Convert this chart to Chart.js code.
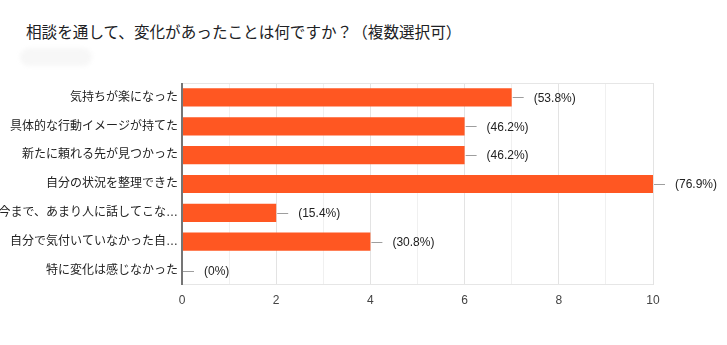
<!DOCTYPE html>
<html>
<head>
<meta charset="utf-8">
<script src="https://cdn.jsdelivr.net/npm/chart.js@4/dist/chart.umd.min.js"></script>
<style>
  html, body { margin: 0; padding: 0; background: #fff; }
  #wrap { position: relative; width: 727px; height: 345px; overflow: hidden; }
  #title { position: absolute; left: 26px; top: 22px; font-size: 15.6px; color: #202124;
           font-family: Arial, "Liberation Sans", "Noto Sans CJK JP", sans-serif; white-space: nowrap; line-height: 22px; }
  #pill { position: absolute; left: 20px; top: 48px; width: 72px; height: 18px; border-radius: 9px;
          background: #f7f7f7; filter: blur(2px); }
  canvas { position: absolute; left: 0; top: 0; }
</style>
</head>
<body>
<div id="wrap">
  <div id="title">相談を通して、変化があったことは何ですか？（複数選択可）</div>
  <div id="pill"></div>
  <canvas id="c" width="727" height="345"></canvas>
</div>
<script>
const categories = [
  "気持ちが楽になった",
  "具体的な行動イメージが持てた",
  "新たに頼れる先が見つかった",
  "自分の状況を整理できた",
  "今まで、あまり人に話してこな…",
  "自分で気付いていなかった自…",
  "特に変化は感じなかった"
];
const counts = [7, 6, 6, 10, 2, 4, 0];
const percentLabels = ["(53.8%)", "(46.2%)", "(46.2%)", "(76.9%)", "(15.4%)", "(30.8%)", "(0%)"];
const xTickValues = [0, 2, 4, 6, 8, 10];

const FONT = 'Arial, "Liberation Sans", "Noto Sans CJK JP", sans-serif';

const framePlugin = {
  id: 'frame',
  beforeDatasetsDraw(chart) {
    const a = chart.chartArea, ctx = chart.ctx;
    ctx.save();
    ctx.strokeStyle = '#e6e6e6';
    ctx.lineWidth = 1;
    ctx.beginPath();
    ctx.moveTo(a.left, a.top + 0.5); ctx.lineTo(a.right, a.top + 0.5);
    ctx.moveTo(a.left, a.bottom - 0.5); ctx.lineTo(a.right, a.bottom - 0.5);
    ctx.stroke();
    ctx.restore();
  },
  afterDatasetsDraw(chart) {
    const ctx = chart.ctx;
    const meta = chart.getDatasetMeta(0);
    ctx.save();
    const a = chart.chartArea;
    ctx.strokeStyle = '#757575';
    ctx.lineWidth = 2;
    ctx.beginPath();
    ctx.moveTo(a.left, a.top); ctx.lineTo(a.left, a.bottom);
    ctx.stroke();
    ctx.font = '12px ' + FONT;
    ctx.textBaseline = 'middle';
    ctx.textAlign = 'left';
    meta.data.forEach((bar, i) => {
      const xe = bar.x, y = bar.y;
      ctx.strokeStyle = '#9e9e9e';
      ctx.lineWidth = 1;
      ctx.beginPath();
      ctx.moveTo(xe + 1, Math.round(y) + 0.5);
      ctx.lineTo(xe + 12, Math.round(y) + 0.5);
      ctx.stroke();
      ctx.fillStyle = '#222';
      ctx.fillText(percentLabels[i], xe + 22, y + 1);
    });
    ctx.restore();
  }
};

new Chart(document.getElementById('c'), {
  type: 'bar',
  data: {
    labels: categories,
    datasets: [{
      data: counts,
      backgroundColor: '#ff5722',
      borderWidth: 0,
      categoryPercentage: 1,
      barPercentage: 0.63
    }]
  },
  options: {
    indexAxis: 'y',
    responsive: false,
    animation: false,
    devicePixelRatio: 1,
    layout: { padding: { left: 0, right: 74, top: 83, bottom: 0 } },
    plugins: { legend: { display: false }, tooltip: { enabled: false } },
    scales: {
      x: {
        min: 0, max: 10,
        afterFit(s) { s.height = 60; },
        afterBuildTicks(s) { s.ticks = Array.from({length: 11}, (_, i) => ({ value: i })); },
        grid: {
          color: (c) => (c.tick && c.tick.value % 2 === 0) ? '#e3e3e3' : '#f0f0f0',
          drawTicks: false
        },
        border: { display: false },
        ticks: {
          padding: 8,
          color: '#444',
          font: { size: 12, family: FONT },
          callback: (v) => xTickValues.includes(v) ? String(v) : ''
        }
      },
      y: {
        afterFit(s) { s.width = 182; },
        grid: { display: false, drawTicks: false },
        border: { display: false },
        ticks: {
          padding: 4,
          color: '#222',
          font: { size: 12, family: FONT }
        }
      }
    }
  },
  plugins: [framePlugin]
});
</script>
</body>
</html>
